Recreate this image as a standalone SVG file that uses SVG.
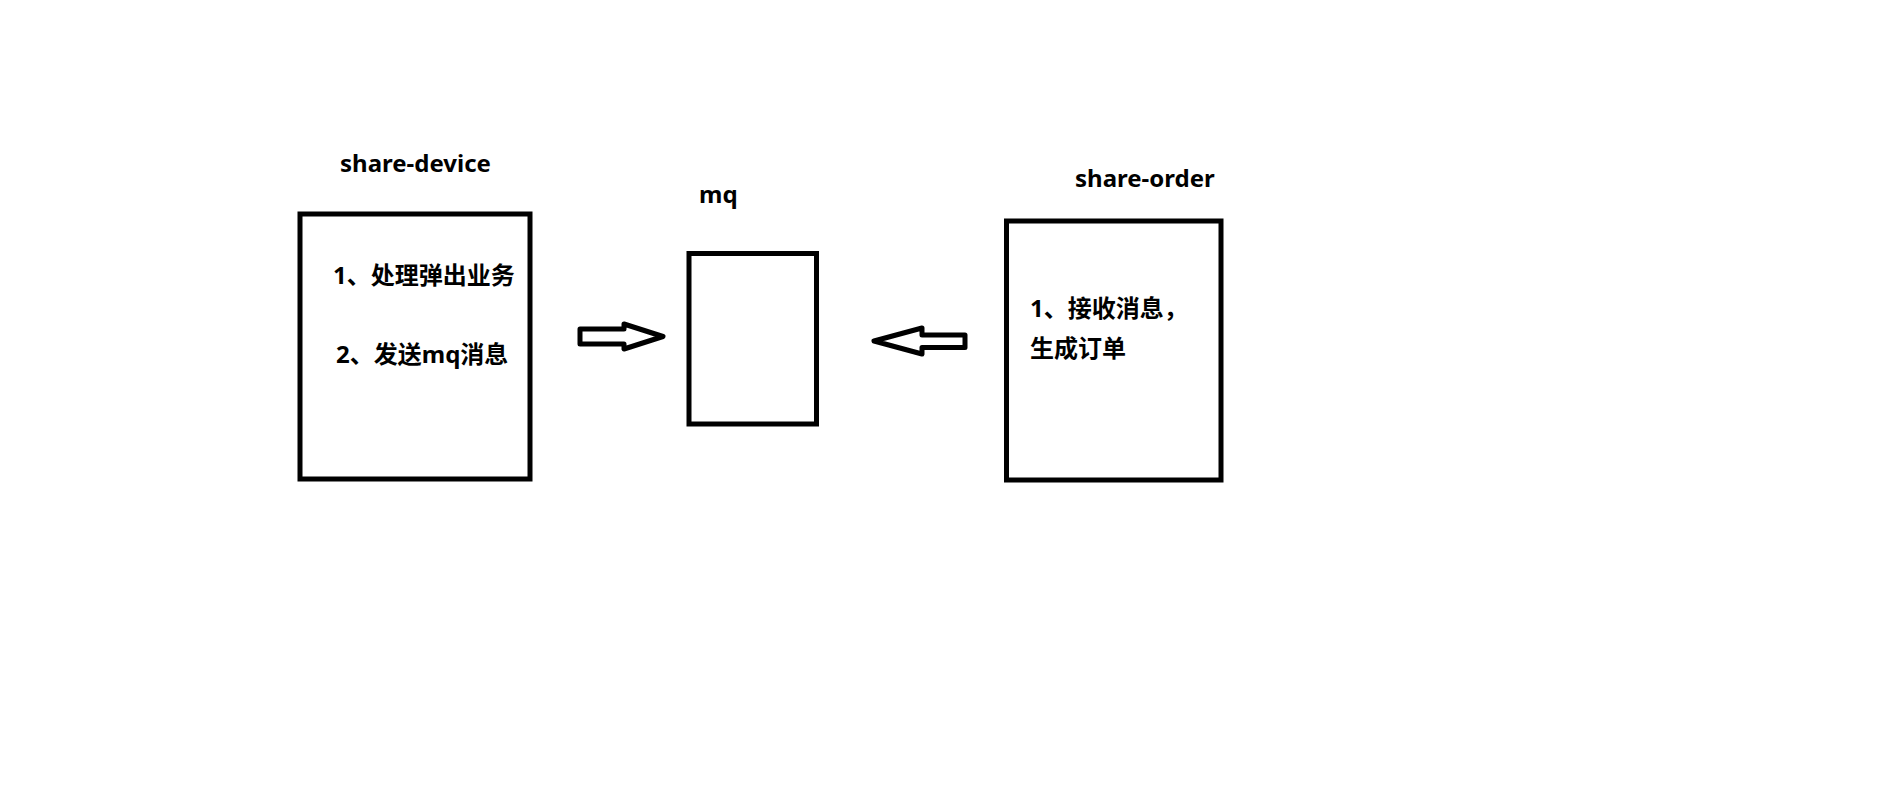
<svg xmlns="http://www.w3.org/2000/svg" width="1889" height="806" viewBox="0 0 1889 806">
<style>
.box{fill:none;stroke:#000;stroke-width:5}
.arr{fill:none;stroke:#000;stroke-width:5;stroke-linejoin:round}
.t{font-family:"Noto Sans","Noto Sans CJK SC",sans-serif;font-weight:bold;fill:#000}
.lt{font-size:24px}
.ct{font-size:24px}
</style>
<rect width="1889" height="806" fill="#fff"/>
<g id="share-device">
<text class="t lt" x="340" y="172">share-device</text>
<rect class="box" x="300" y="214" width="230" height="265"/>
<text class="t ct" x="333" y="284">1、处理弹出业务</text>
<text class="t ct" x="336" y="363">2、发送mq消息</text>
</g>
<g id="mq">
<text class="t lt" x="699" y="203">mq</text>
<rect class="box" x="689" y="253.5" width="127.5" height="170.5"/>
</g>
<g id="share-order">
<text class="t lt" x="1075" y="187">share-order</text>
<rect class="box" x="1006.5" y="221" width="214.5" height="259"/>
<text class="t ct" x="1030" y="317">1、接收消息，</text>
<text class="t ct" x="1030" y="357">生成订单</text>
</g>
<g id="connectors">
<polygon class="arr" points="580,329 624,329 624,324 663,336.5 624,349 624,344 580,344"/>
<polygon class="arr" points="965,335 922,335 922,328 874,341 922,354 922,347.5 965,347.5"/>
</g>
</svg>
